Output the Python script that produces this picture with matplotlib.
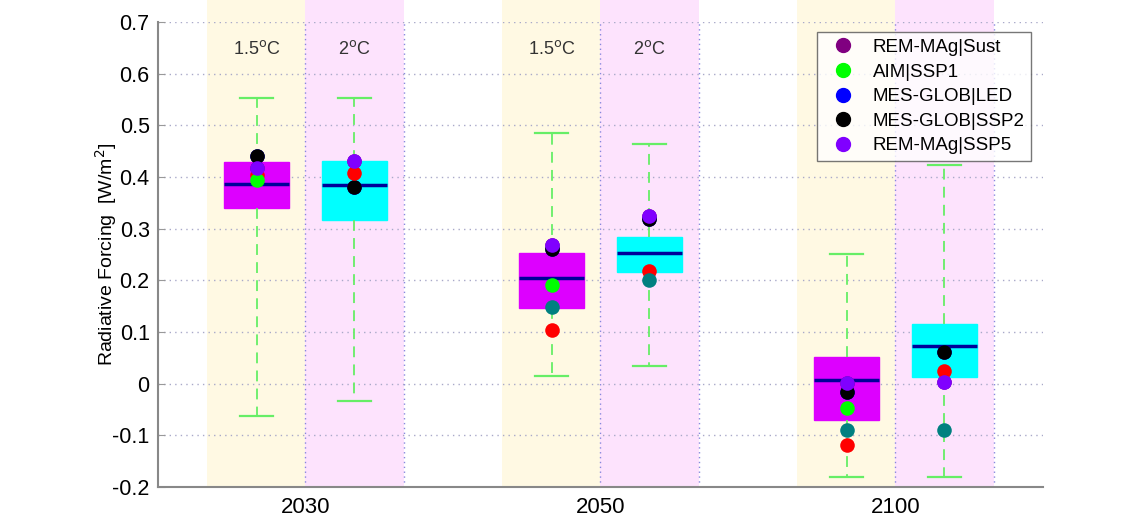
import matplotlib
matplotlib.use("Agg")
import matplotlib.pyplot as plt
from matplotlib.lines import Line2D

plt.rcParams['font.family'] = ['Liberation Sans', 'DejaVu Sans']

# ---- data -------------------------------------------------------------
years = ["2030", "2050", "2100"]
targets = ["1.5$^{\\rm o}$C", "2$^{\\rm o}$C"]

# box statistics per year: (1.5C, 2C)
q1_15 = [0.340, 0.147, -0.070]
med_15 = [0.386, 0.205, 0.007]
q3_15 = [0.429, 0.252, 0.051]
lo_15 = [-0.063, 0.015, -0.181]
hi_15 = [0.553, 0.486, 0.251]

q1_20 = [0.317, 0.217, 0.013]
med_20 = [0.384, 0.252, 0.073]
q3_20 = [0.431, 0.284, 0.116]
lo_20 = [-0.034, 0.034, -0.180]
hi_20 = [0.553, 0.464, 0.424]

# individual model values, order: 2030 1.5C, 2030 2C, 2050 1.5C, 2050 2C, 2100 1.5C, 2100 2C
rem_sust = [0.418, 0.431, 0.268, 0.325, 0.002, 0.003]
aim_ssp1 = [0.394, None, 0.190, None, -0.048, None]
mes_led = [0.441, 0.381, 0.261, 0.319, -0.017, 0.061]
mes_ssp2 = [0.441, 0.381, 0.261, 0.319, -0.017, 0.061]
rem_ssp5 = [0.418, 0.431, 0.268, 0.325, 0.002, 0.003]
model_red = [0.404, 0.407, 0.104, 0.219, -0.118, 0.024]
model_teal = [None, None, 0.149, 0.200, -0.090, -0.089]

series = [
    ("REM-MAg|Sust", "#800080", rem_sust),
    ("MES-GLOB|LED", "#0000ff", mes_led),
    ("MES-GLOB|SSP2", "#000000", mes_ssp2),
    (None, "#ff0000", model_red),
    (None, "#008080", model_teal),
    ("AIM|SSP1", "#00ff00", aim_ssp1),
    ("REM-MAg|SSP5", "#8000ff", rem_ssp5),
]
legend_order = ["REM-MAg|Sust", "AIM|SSP1", "MES-GLOB|LED", "MES-GLOB|SSP2", "REM-MAg|SSP5"]

# ---- layout -------------------------------------------------------------
centers = [1, 2, 3]
offset = 0.166
span = 0.335
box_w = 0.22

fig = plt.figure(figsize=(11.39, 5.16), dpi=100)
ax = fig.add_axes([0.1387, 0.0562, 0.7770, 0.9012])
ax.set_xlim(0.5, 3.5)
ax.set_ylim(-0.2, 0.7)

tan = "#fff9e3"
pink = "#fde3fd"
for c in centers:
    r1 = ax.axvspan(c - span, c, ymin=0, ymax=1.05, color=tan, zorder=0, lw=0)
    r2 = ax.axvspan(c, c + span, ymin=0, ymax=1.05, color=pink, zorder=0, lw=0)
    r1.set_clip_on(False)
    r2.set_clip_on(False)
    for xv in (c, c + span):
        ax.axvline(xv, color="#8888dd", ls=(0, (1, 2.5)), lw=1.0, zorder=1)

# horizontal grid
for yv in [-0.1, 0.0, 0.1, 0.2, 0.3, 0.4, 0.5, 0.6, 0.7]:
    ax.axhline(yv, color="#a9a9c9", ls=(0, (1, 3)), lw=1.0, zorder=1)

def stats(q1, med, q3, lo, hi):
    return [dict(q1=a, med=b, q3=c_, whislo=d, whishi=e, fliers=[])
            for a, b, c_, d, e in zip(q1, med, q3, lo, hi)]

whisk_col = "#66ee66"
common = dict(showfliers=False, patch_artist=True, widths=box_w,
              medianprops=dict(color="#000099", lw=2.5),
              whiskerprops=dict(color=whisk_col, lw=1.3, ls=(0, (6, 4))),
              capprops=dict(color=whisk_col, lw=1.6), manage_ticks=False,
              zorder=2)
b1 = ax.bxp(stats(q1_15, med_15, q3_15, lo_15, hi_15),
            positions=[c - offset for c in centers],
            boxprops=dict(facecolor="#dd00ff", edgecolor="#dd00ff", lw=1), **common)
b2 = ax.bxp(stats(q1_20, med_20, q3_20, lo_20, hi_20),
            positions=[c + offset for c in centers],
            boxprops=dict(facecolor="#00ffff", edgecolor="#00ffff", lw=1), **common)

xpos = []
for c in centers:
    xpos += [c - offset, c + offset]

handles = {}
for label, color, vals in series:
    xs = [x for x, v in zip(xpos, vals) if v is not None]
    ys = [v for v in vals if v is not None]
    ax.scatter(xs, ys, s=110, color=color, zorder=4, linewidths=0)
    if label:
        handles[label] = Line2D([], [], marker="o", ls="none", color=color,
                                markersize=10, label=label)

# target labels
for c in centers[:2]:
    ax.text(c - offset, 0.648, targets[0], ha="center", va="center", fontsize=13, color="#333333")
    ax.text(c + offset, 0.648, targets[1], ha="center", va="center", fontsize=13, color="#333333")

ax.set_xticks(centers)
ax.set_xticklabels(years, fontsize=16)
yt = [-0.2, -0.1, 0, 0.1, 0.2, 0.3, 0.4, 0.5, 0.6, 0.7]
ax.set_yticks(yt)
ax.set_yticklabels([f"{v:g}" for v in yt], fontsize=15.5)
ax.tick_params(axis="both", direction="in", length=5, color="#999999", pad=6)
ax.tick_params(axis="x", length=0, pad=7)
ax.set_ylabel("Radiative Forcing  [W/m$^2$]", fontsize=14, labelpad=-5)

for s in ("top", "right"):
    ax.spines[s].set_visible(False)
for s in ("left", "bottom"):
    ax.spines[s].set_color("#888888")
    ax.spines[s].set_linewidth(1.5)
    ax.spines[s].set_zorder(5)

leg = ax.legend(handles=[handles[k] for k in legend_order], loc="upper right",
                fontsize=13.5, frameon=True, fancybox=False, edgecolor="#555555",
                borderaxespad=0.3, handletextpad=0.6, labelspacing=0.4,
                borderpad=0.35, bbox_to_anchor=(0.993, 0.99))
leg.get_frame().set_linewidth(1.0)
leg.set_zorder(6)

fig.savefig("out.png", dpi=100, facecolor="white")
